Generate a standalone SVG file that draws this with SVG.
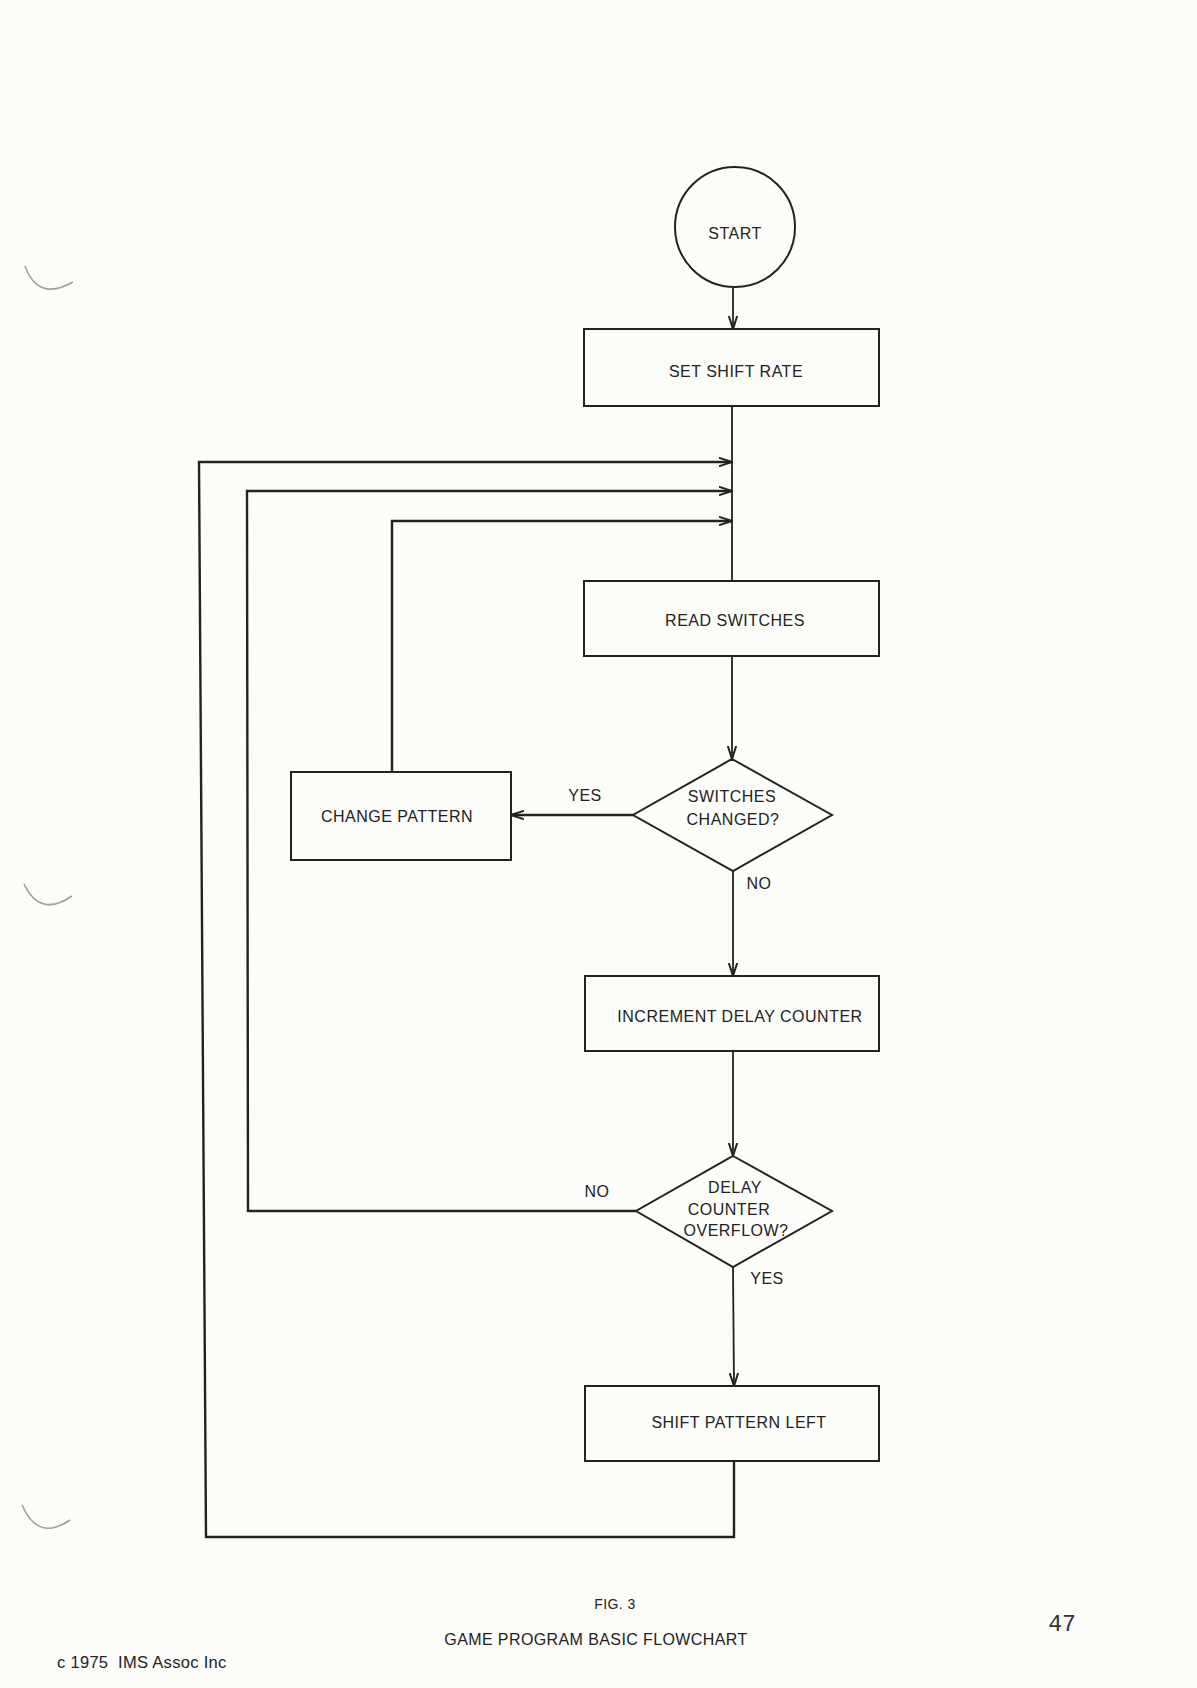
<svg xmlns="http://www.w3.org/2000/svg" width="1197" height="1688" viewBox="0 0 1197 1688">
<style>
  .shape { fill: none; stroke: #222; stroke-width: 2; }
  .line { fill: none; stroke: #222; stroke-width: 1.8; }
  .thick { fill: none; stroke: #222; stroke-width: 2.4; }
  .lbl { font-family: "Liberation Sans", "DejaVu Sans", sans-serif; font-size: 16px; letter-spacing: 0.5px; fill: #222; text-anchor: middle; }
  .foot { font-family: "Liberation Sans", "DejaVu Sans", sans-serif; font-size: 16px; letter-spacing: 0.4px; fill: #222; text-anchor: middle; }
  .hole { fill: none; stroke: #a0a0a0; stroke-width: 1.6; }
</style>
<defs>
  <marker id="arr" viewBox="0 0 14 10" refX="13" refY="5" markerWidth="14" markerHeight="10" markerUnits="userSpaceOnUse" orient="auto">
    <path d="M0,0.8 L13,5 L0,9.2" fill="none" stroke="#222" stroke-width="2"/>
  </marker>
</defs>
<rect x="0" y="0" width="1197" height="1688" fill="#fcfcf9"/>

<g id="punch-holes">
  <path class="hole" d="M25,266 Q38,302 73,282"/>
  <path class="hole" d="M24,884 Q40,918 72,896"/>
  <path class="hole" d="M22,1505 Q38,1542 70,1520"/>
</g>

<g id="connectors">
  <line class="line" x1="733" y1="287" x2="733" y2="329" marker-end="url(#arr)"/>
  <line class="line" x1="732" y1="406" x2="732" y2="581"/>
  <line class="line" x1="732" y1="656" x2="732" y2="759" marker-end="url(#arr)"/>
  <line class="line" x1="733" y1="871" x2="733" y2="976" marker-end="url(#arr)"/>
  <line class="line" x1="733" y1="1051" x2="733" y2="1156" marker-end="url(#arr)"/>
  <line class="line" x1="733" y1="1267" x2="734" y2="1386" marker-end="url(#arr)"/>
  <line class="thick" x1="633" y1="815" x2="511" y2="815" marker-end="url(#arr)"/>
  <polyline class="thick" points="392,772 392,521 732,521" marker-end="url(#arr)"/>
  <polyline class="thick" points="636,1211 248,1211 247,491 732,491" marker-end="url(#arr)"/>
  <polyline class="thick" points="734,1461 734,1537 206,1537 199,462 732,462" marker-end="url(#arr)"/>
</g>

<g id="start">
  <circle class="shape" cx="735" cy="227" r="60"/>
  <text class="lbl" x="735" y="239">START</text>
</g>
<g id="set-shift-rate">
  <rect class="shape" x="584" y="329" width="295" height="77"/>
  <text class="lbl" x="736" y="377">SET SHIFT RATE</text>
</g>
<g id="read-switches">
  <rect class="shape" x="584" y="581" width="295" height="75"/>
  <text class="lbl" x="735" y="626">READ SWITCHES</text>
</g>
<g id="switches-changed">
  <polygon class="shape" points="732,759 832,815 733,871 633,815"/>
  <text class="lbl" x="732" y="802">SWITCHES</text>
  <text class="lbl" x="733" y="825">CHANGED?</text>
</g>
<g id="change-pattern">
  <rect class="shape" x="291" y="772" width="220" height="88"/>
  <text class="lbl" x="397" y="822">CHANGE PATTERN</text>
</g>
<g id="increment-delay-counter">
  <rect class="shape" x="585" y="976" width="294" height="75"/>
  <text class="lbl" x="740" y="1022">INCREMENT DELAY COUNTER</text>
</g>
<g id="delay-counter-overflow">
  <polygon class="shape" points="733,1156 832,1211 733,1267 636,1211"/>
  <text class="lbl" x="735" y="1193">DELAY</text>
  <text class="lbl" x="729" y="1215">COUNTER</text>
  <text class="lbl" x="736" y="1236">OVERFLOW?</text>
</g>
<g id="shift-pattern-left">
  <rect class="shape" x="585" y="1386" width="294" height="75"/>
  <text class="lbl" x="739" y="1428">SHIFT PATTERN LEFT</text>
</g>

<g id="edge-labels">
  <text class="lbl" x="585" y="801">YES</text>
  <text class="lbl" x="759" y="889">NO</text>
  <text class="lbl" x="597" y="1197">NO</text>
  <text class="lbl" x="767" y="1284">YES</text>
</g>

<g id="footer">
  <text class="foot" x="615" y="1609" style="font-size:14px">FIG. 3</text>
  <text class="foot" x="596" y="1645">GAME PROGRAM BASIC FLOWCHART</text>
  <text x="1062" y="1631" style="font-family:'Liberation Mono','DejaVu Sans Mono',monospace;font-size:23px;fill:#333;text-anchor:middle">47</text>
  <text x="57" y="1668" xml:space="preserve" style="font-family:'Liberation Sans','DejaVu Sans',sans-serif;font-size:16.5px;letter-spacing:0.3px;fill:#222">c 1975  IMS Assoc Inc</text>
</g>
</svg>
